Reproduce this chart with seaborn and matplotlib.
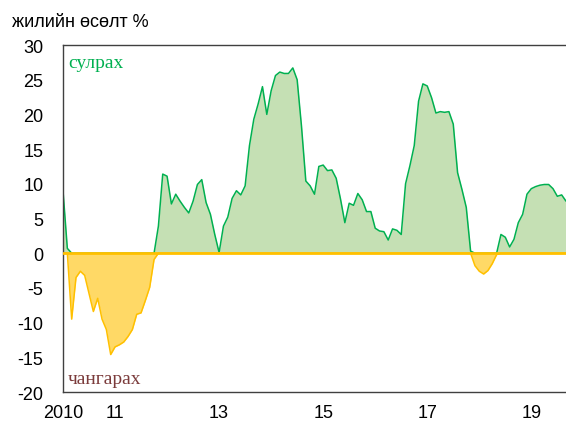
import numpy as np
import pandas as pd
import matplotlib.pyplot as plt
import seaborn as sns

sns.set_theme(style="white")
plt.rcParams['font.family'] = ['Liberation Sans', 'DejaVu Sans']
plt.rcParams['axes.unicode_minus'] = False

# monthly year-on-year growth, Jan 2010 .. Sep 2019
growth = [
    9.0, 0.7, -9.5, -3.5, -2.6, -3.2, -5.8, -8.4, -6.5, -9.5, -11.0, -14.6,
    -13.5, -13.2, -12.8, -12.0, -11.0, -8.8, -8.6, -6.8, -4.9, -0.9, 3.9, 11.4,
    11.1, 7.1, 8.5, 7.5, 6.6, 5.8, 7.5, 9.9, 10.6, 7.3, 5.6, 2.7,
    0.1, 3.9, 5.2, 7.9, 9.0, 8.4, 9.7, 15.5, 19.3, 21.5, 24.0, 20.0,
    23.4, 25.6, 26.1, 25.9, 25.9, 26.7, 25.0, 18.3, 10.4, 9.7, 8.5, 12.5,
    12.7, 11.9, 12.0, 10.8, 7.8, 4.4, 7.2, 6.9, 8.6, 7.7, 6.0, 6.0,
    3.6, 3.2, 3.1, 1.9, 3.5, 3.3, 2.7, 10.0, 12.6, 15.5, 21.9, 24.4,
    24.1, 22.4, 20.2, 20.4, 20.3, 20.4, 18.6, 11.6, 9.2, 6.6, 0.3, -1.8,
    -2.6, -3.0, -2.5, -1.5, -0.2, 2.7, 2.3, 0.9, 2.0, 4.4, 5.6, 8.5,
    9.3, 9.6, 9.8, 9.9, 9.9, 9.3, 8.2, 8.4, 7.5,
]
year_ticks = [2010, 2011, 2013, 2015, 2017, 2019]
year_labels = ['2010', '11', '13', '15', '17', '19']
y_ticks = [-20, -15, -10, -5, 0, 5, 10, 15, 20, 25, 30]

df = pd.DataFrame({'month': np.arange(len(growth)), 'growth': growth})
df['up'] = df['growth'].clip(lower=0)
df['down'] = df['growth'].clip(upper=0)

fig = plt.figure(figsize=(5.66, 4.27), dpi=100)
ax = fig.add_axes([63 / 566, 1 - 393 / 427, 1 - 63 / 566, (393 - 46) / 427])

ax.fill_between(df['month'], 0, df['up'], color='#c5e0b4', lw=0)
ax.fill_between(df['month'], 0, df['down'], color='#ffd966', lw=0)
sns.lineplot(data=df, x='month', y='up', ax=ax, color='#00b050', lw=1.1)
sns.lineplot(data=df, x='month', y='down', ax=ax, color='#ffc000', lw=1.1)
ax.axhline(0, color='#ffc000', lw=2, zorder=5)

ax.set_xlim(0, len(growth) - 1)
ax.set_ylim(-20, 30)
ax.set_xticks([(y - 2010) * 12 for y in year_ticks])
ax.set_xticklabels(year_labels)
ax.set_yticks(y_ticks)
ax.set_yticklabels([str(v) for v in y_ticks])
ax.tick_params(axis='both', length=0, labelsize=13, colors='black')
ax.tick_params(axis='x', pad=9)
ax.tick_params(axis='y', pad=14)
ax.set_xlabel('')
ax.set_ylabel('')

for s in ['left', 'bottom', 'top']:
    ax.spines[s].set_color('#404040')
    ax.spines[s].set_linewidth(1)
ax.spines['right'].set_visible(False)

fig.text(12 / 566, 1 - 27 / 427, 'жилийн өсөлт %', fontsize=13, color='black')
ax.text(0.01, 0.95, 'сулрах', transform=ax.transAxes, fontsize=14,
        color='#00b050', family=['Liberation Serif', 'DejaVu Serif'], va='center')
ax.text(0.01, 0.04, 'чангарах', transform=ax.transAxes, fontsize=14,
        color='#7b3b3b', family=['Liberation Serif', 'DejaVu Serif'], va='center')

fig.savefig('out.png', dpi=100)
